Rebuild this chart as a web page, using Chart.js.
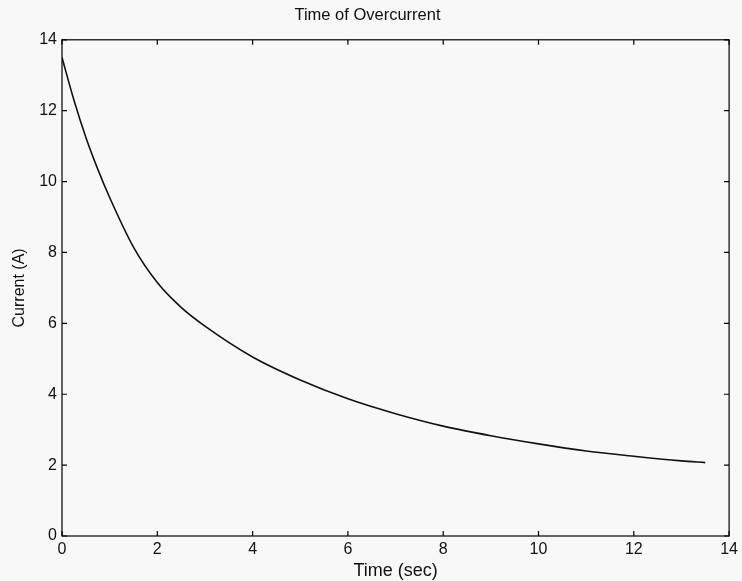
<!DOCTYPE html>
<html>
<head>
<meta charset="utf-8">
<script src="https://cdn.jsdelivr.net/npm/chart.js@4/dist/chart.umd.min.js"></script>
<style>
  html, body { margin: 0; padding: 0; background: #f8f8f8; }
  #wrap { width: 742px; height: 581px; }
</style>
</head>
<body>
<div id="wrap"><canvas id="myChart"></canvas></div>
<script>
// values
const tiempos = [0, 0.25, 0.5, 0.75, 1, 1.5, 2, 2.5, 3, 4, 5, 6, 7, 8, 9, 10, 11, 12, 13, 13.5];
const corrientes = [13.5, 12.3, 11.25, 10.35, 9.55, 8.15, 7.15, 6.45, 5.92, 5.05, 4.4, 3.87, 3.45, 3.1, 2.83, 2.6, 2.4, 2.25, 2.12, 2.07];
const ticksX = [0, 2, 4, 6, 8, 10, 12, 14];
const ticksY = [0, 2, 4, 6, 8, 10, 12, 14];

const puntos = tiempos.map((t, i) => ({ x: t, y: corrientes[i] }));
const fuente = "'Liberation Sans', Arial, Helvetica, sans-serif";

// matlab style box with ticks pointing inwards
const marco = {
    id: 'marco',
    afterDraw(chart) {
        const { ctx, chartArea: a, scales } = chart;
        const largo = 5;
        ctx.save();
        ctx.strokeStyle = '#000';
        ctx.lineWidth = 1.2;
        ctx.strokeRect(a.left, a.top, a.right - a.left, a.bottom - a.top);
        ctx.beginPath();
        ticksX.forEach(v => {
            const px = scales.x.getPixelForValue(v);
            ctx.moveTo(px, a.bottom); ctx.lineTo(px, a.bottom - largo);
            ctx.moveTo(px, a.top); ctx.lineTo(px, a.top + largo);
        });
        ticksY.forEach(v => {
            const py = scales.y.getPixelForValue(v);
            ctx.moveTo(a.left, py); ctx.lineTo(a.left + largo, py);
            ctx.moveTo(a.right, py); ctx.lineTo(a.right - largo, py);
        });
        ctx.stroke();
        ctx.restore();
    }
};

const grafico = new Chart(document.getElementById('myChart'), {
    type: 'line',
    data: {
        datasets: [{
            data: puntos,
            borderColor: '#111',
            borderWidth: 1.6,
            pointRadius: 0,
            cubicInterpolationMode: 'monotone',
            fill: false
        }]
    },
    options: {
        responsive: true,
        maintainAspectRatio: false,
        animation: false,
        layout: { padding: { right: 7 } },
        plugins: {
            legend: { display: false },
            tooltip: { enabled: false },
            title: {
                display: true,
                text: 'Time of Overcurrent',
                color: '#111',
                font: { family: fuente, size: 16.5, weight: 'normal' },
                padding: { top: 6, bottom: 14 }
            }
        },
        scales: {
            x: {
                type: 'linear',
                min: 0,
                max: 14,
                afterBuildTicks: s => { s.ticks = ticksX.map(v => ({ value: v })); },
                afterFit: s => { s.height = 45; },
                grid: { display: false, drawTicks: false },
                border: { display: false },
                ticks: { color: '#111', padding: 4, font: { family: fuente, size: 16 } },
                title: {
                    display: true,
                    text: 'Time (sec)',
                    color: '#111',
                    font: { family: fuente, size: 18, lineHeight: 1 },
                    padding: { top: 0, bottom: 1 }
                }
            },
            y: {
                min: 0,
                max: 14,
                afterBuildTicks: s => { s.ticks = ticksY.map(v => ({ value: v })); },
                afterFit: s => { s.width = 62; },
                grid: { display: false, drawTicks: false },
                border: { display: false },
                ticks: { color: '#111', padding: 5, font: { family: fuente, size: 16 } },
                title: {
                    display: true,
                    text: 'Current (A)',
                    color: '#111',
                    font: { family: fuente, size: 16, lineHeight: 1 },
                    padding: { top: 12, bottom: 0 }
                }
            }
        }
    },
    plugins: [marco]
});
</script>
</body>
</html>
